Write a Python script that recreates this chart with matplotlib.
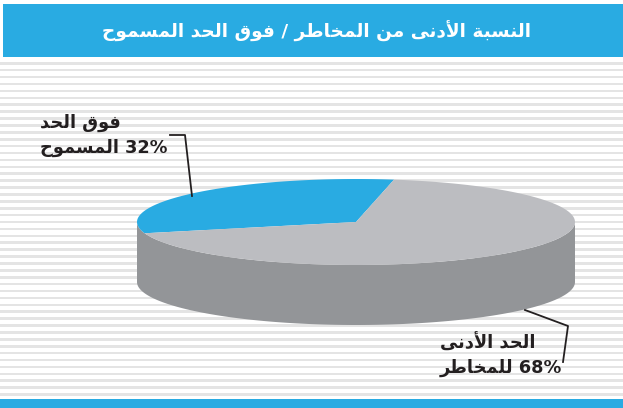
import numpy as np
import matplotlib
matplotlib.use("Agg")
import matplotlib.pyplot as plt
from matplotlib.patches import Polygon, Rectangle

# data
labels = ["فوق الحد المسموح", "الحد الأدنى للمخاطر"]
shares = [32, 68]
slice_colors = ["#29abe2", "#bcbdc1"]
title = "النسبة الأدنى من المخاطر / فوق الحد المسموح"
label_lines = [["فوق الحد", "المسموح"], ["الحد الأدنى", "للمخاطر"]]

# simple arabic shaping into presentation forms (iso, fin, ini, med)
FORMS = {
    "ا": ("\ufe8d", "\ufe8e", None, None),
    "أ": ("\ufe83", "\ufe84", None, None),
    "ب": ("\ufe8f", "\ufe90", "\ufe91", "\ufe92"),
    "ة": ("\ufe93", "\ufe94", None, None),
    "ح": ("\ufea1", "\ufea2", "\ufea3", "\ufea4"),
    "خ": ("\ufea5", "\ufea6", "\ufea7", "\ufea8"),
    "د": ("\ufea9", "\ufeaa", None, None),
    "ر": ("\ufead", "\ufeae", None, None),
    "س": ("\ufeb1", "\ufeb2", "\ufeb3", "\ufeb4"),
    "ط": ("\ufec1", "\ufec2", "\ufec3", "\ufec4"),
    "ف": ("\ufed1", "\ufed2", "\ufed3", "\ufed4"),
    "ق": ("\ufed5", "\ufed6", "\ufed7", "\ufed8"),
    "ل": ("\ufedd", "\ufede", "\ufedf", "\ufee0"),
    "م": ("\ufee1", "\ufee2", "\ufee3", "\ufee4"),
    "ن": ("\ufee5", "\ufee6", "\ufee7", "\ufee8"),
    "و": ("\ufeed", "\ufeee", None, None),
    "ى": ("\ufeef", "\ufef0", None, None),
}
LAM_ALEF = {"ا": ("\ufefb", "\ufefc"), "أ": ("\ufef7", "\ufef8")}


def shape(text):
    chars = list(text)
    out = []
    i = 0
    prev_joins = False
    while i < len(chars):
        c = chars[i]
        if c not in FORMS:
            out.append(c)
            prev_joins = False
            i += 1
            continue
        if c == "ل" and i + 1 < len(chars) and chars[i + 1] in LAM_ALEF:
            out.append(LAM_ALEF[chars[i + 1]][1 if prev_joins else 0])
            prev_joins = False
            i += 2
            continue
        f = FORMS[c]
        nxt = chars[i + 1] if i + 1 < len(chars) else None
        next_ok = f[2] is not None and nxt in FORMS
        if prev_joins and next_ok:
            out.append(f[3])
        elif prev_joins:
            out.append(f[1])
        elif next_ok:
            out.append(f[2])
        else:
            out.append(f[0])
        prev_joins = f[2] is not None
        i += 1
    return "".join(out)[::-1]


W, H = 623, 408
fig = plt.figure(figsize=(W / 100, H / 100), dpi=100)
ax = fig.add_axes([0, 0, 1, 1])
ax.set_xlim(0, W)
ax.set_ylim(H, 0)
ax.axis("off")

# striped background
for y in np.arange(62, 396, 6.9):
    ax.add_patch(Rectangle((0, y), W, 2.6, color="#e4e4e4", lw=0))

# header and footer bars
ax.add_patch(Rectangle((3, 4), W - 3, 53, color="#29abe2", lw=0))
ax.add_patch(Rectangle((0, 399), W, 9, color="#29abe2", lw=0))
ax.text(316, 31, shape(title), color="white", fontsize=13.3, fontweight="bold",
        ha="center", va="center", family="DejaVu Sans")

# 3d pie
cx, cy, rx, ry, depth = 356, 222, 219, 43, 60
start = 80.0


def arc(t0, t1, dy=0):
    t = np.radians(np.linspace(t0, t1, 120))
    return np.column_stack([cx + rx * np.cos(t), cy - ry * np.sin(t) + dy])


side = np.vstack([arc(180, 360), arc(360, 180, depth)])
ax.add_patch(Polygon(side, closed=True, color="#939598", lw=0))

a = start
for share, col in zip(shares, slice_colors):
    span = share / sum(shares) * 360
    pts = np.vstack([[cx, cy], arc(a, a + span)])
    ax.add_patch(Polygon(pts, closed=True, color=col, lw=0))
    a += span

# leader lines
ax.plot([170, 185, 192], [135, 135, 196], color="#231f20", lw=1.3)
ax.plot([525, 568, 563], [310, 326, 362], color="#231f20", lw=1.3)

# labels
for (l1, l2), share, (x, y) in zip(label_lines, shares, [(40, 123), (440, 343)]):
    ax.text(x, y, shape(l1), fontsize=12.8, fontweight="bold", color="#231f20",
            ha="left", va="center", family="DejaVu Sans")
    ax.text(x, y + 25, shape(l2) + " " + f"{share}%", fontsize=12.8, fontweight="bold",
            color="#231f20", ha="left", va="center", family="DejaVu Sans")

fig.savefig("out.png", dpi=100)
